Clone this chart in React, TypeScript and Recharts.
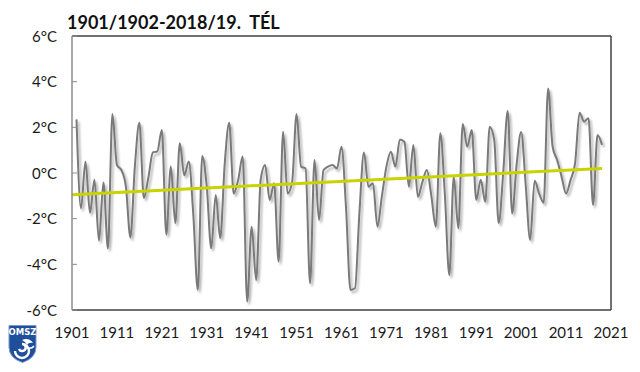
import React from "react";
import { LineChart, Line, XAxis, YAxis, ReferenceLine } from "recharts";

// winters 1901/02 .. 2018/19, labelled by the year of the January
const winters = [
  1902, 1903, 1904, 1905, 1906, 1907, 1908, 1909, 1910, 1911,
  1912, 1913, 1914, 1915, 1916, 1917, 1918, 1919, 1920, 1921,
  1922, 1923, 1924, 1925, 1926, 1927, 1928, 1929, 1930, 1931,
  1932, 1933, 1934, 1935, 1936, 1937, 1938, 1939, 1940, 1941,
  1942, 1943, 1944, 1945, 1946, 1947, 1948, 1949, 1950, 1951,
  1952, 1953, 1954, 1955, 1956, 1957, 1958, 1959, 1960, 1961,
  1962, 1963, 1964, 1965, 1966, 1967, 1968, 1969, 1970, 1971,
  1972, 1973, 1974, 1975, 1976, 1977, 1978, 1979, 1980, 1981,
  1982, 1983, 1984, 1985, 1986, 1987, 1988, 1989, 1990, 1991,
  1992, 1993, 1994, 1995, 1996, 1997, 1998, 1999, 2000, 2001,
  2002, 2003, 2004, 2005, 2006, 2007, 2008, 2009, 2010, 2011,
  2012, 2013, 2014, 2015, 2016, 2017, 2018, 2019,
];

// mean winter temperature, °C
const temps = [
  2.35, -1.55, 0.5, -1.74, -0.3, -2.96, -0.42, -3.3, 2.58, 0.35,
  0.13, -0.6, -2.82, 0.3, 2.2, -1.1, -0.2, 0.9, 0.95, 1.88,
  -2.7, 0.28, -2.2, 1.3, -0.1, 0.5, -1.8, -5.12, 0.75, -0.6,
  -3.3, -0.96, -2.86, 0.4, 2.2, -0.9, -0.3, 0.72, -5.63, -2.35,
  -4.69, -0.3, 0.35, -1.18, -0.45, -3.88, 1.81, -0.9, -0.4, 2.58,
  0.28, 0.2, -4.83, 0.57, -2.06, 0.13, 0.28, 0.35, 0.2, 1.15,
  -1.5, -5.12, -5.05, -1.7, 0.9, -0.6, -0.45, -2.35, -1.0, 0.28,
  0.93, 0.28, 1.47, 1.37, -0.6, 1.23, -1.04, -0.4, 0.13, -1.0,
  -2.35, 1.74, -0.9, -4.47, -0.16, -2.42, 2.15, 1.15, 1.88, -1.18,
  -0.3, -1.26, 2.03, 1.45, -2.2, 0.0, 2.72, -1.77, 0.4, 1.8,
  -0.5, -2.93, -0.34, -0.9, -1.3, 3.7, 1.15, 0.57, -0.16, -0.9,
  -0.3, 0.42, 2.64, 2.25, 2.4, -1.4, 1.66, 1.23,
];

// linear trend, read at its two ends
const trendYears = [1901, 2019];
const trendValues = [-0.95, 0.2];

const xTicks = [1901, 1911, 1921, 1931, 1941, 1951, 1961, 1971, 1981, 1991, 2001, 2011, 2021];
const yTicks = [-6, -4, -2, 0, 2, 4, 6];

const series = winters.map((year, i) => ({ year, temp: temps[i] }));
const trend = trendYears.map((year, i) => ({ year, trend: trendValues[i] }));

const FONT = "Lato, 'Open Sans', sans-serif";

const XTick = (props: any) => {
  const { x, y, payload } = props;
  return (
    <text x={x} y={y + 28} textAnchor="middle" fontSize={15} fill="#1a1a1a" fontFamily={FONT}>
      {payload.value}
    </text>
  );
};

const YTick = (props: any) => {
  const { x, y, payload } = props;
  return (
    <g>
      <line x1={x} x2={x + 5} y1={y} y2={y} stroke="#8c8c8c" />
      <text x={x - 15} y={y + 5.5} textAnchor="end" fontSize={15} fill="#1a1a1a" fontFamily={FONT}>
        {payload.value}°C
      </text>
    </g>
  );
};

function Logo() {
  return (
    <svg width={31} height={40} style={{ position: "absolute", left: 7, top: 324 }}>
      <path
        d="M2,1.5 H29 V23 Q29,34 15.5,38.5 Q2,34 2,23 Z"
        fill="#1f4e9b"
        stroke="#7d97c9"
        strokeWidth={1}
      />
      <text x={15.5} y={11} textAnchor="middle" fontSize={8.5} fontWeight="bold" fill="#fff" fontFamily="'DejaVu Sans', sans-serif">
        OMSZ
      </text>
      <path d="M8,27 a7,7 0 1,0 7,-7 a3.5,3.5 0 1,1 -3,5" fill="none" stroke="#fff" strokeWidth={2.4} />
      <path d="M15,16 q7,-3 11,3 q-4,-1 -6,2 q-1,-3 -5,-5 z" fill="#fff" />
      <path d="M20,24 q5,1 7,-2" fill="none" stroke="#fff" strokeWidth={1.5} />
    </svg>
  );
}

export default function App() {
  return (
    <div style={{ position: "absolute", left: 0, top: 0, width: 640, height: 372, background: "#fff" }}>
      <div
        style={{
          position: "absolute",
          left: 67,
          top: 13,
          fontFamily: FONT,
          fontWeight: "bold",
          fontSize: 18,
          lineHeight: "18px",
          color: "#111",
          whiteSpace: "pre",
        }}
      >
        {"1901/1902-2018/19.  TÉL"}
      </div>
      <LineChart width={640} height={372} margin={{ top: 36, right: 29, bottom: 0, left: 0 }}>
        <defs>
          <filter id="lineShadow" x="-5%" y="-5%" width="110%" height="115%">
            <feDropShadow dx="2" dy="2.5" stdDeviation="1.3" floodColor="#000" floodOpacity="0.3" />
          </filter>
        </defs>
        <XAxis
          dataKey="year"
          type="number"
          domain={[1901, 2021]}
          ticks={xTicks}
          allowDuplicatedCategory={false}
          height={62}
          tickSize={0}
          tickMargin={0}
          tickLine={false}
          tick={<XTick />}
          axisLine={{ stroke: "#404040", strokeWidth: 1.5 }}
        />
        <YAxis
          type="number"
          domain={[-6, 6]}
          ticks={yTicks}
          width={72}
          tickSize={0}
          tickMargin={0}
          tickLine={false}
          tick={<YTick />}
          axisLine={{ stroke: "#8c8c8c", strokeWidth: 1.5 }}
        />
        <ReferenceLine y={6} stroke="#404040" strokeWidth={1.5} />
        <ReferenceLine x={2021} stroke="#404040" strokeWidth={1.5} />
        <Line
          data={series}
          dataKey="temp"
          type="monotone"
          stroke="#7a7a7a"
          strokeWidth={2}
          dot={false}
          activeDot={false}
          filter="url(#lineShadow)"
          isAnimationActive={false}
        />
        <Line
          data={trend}
          dataKey="trend"
          type="linear"
          stroke="#c9d300"
          strokeWidth={3}
          dot={false}
          activeDot={false}
          isAnimationActive={false}
        />
      </LineChart>
      <Logo />
    </div>
  );
}
